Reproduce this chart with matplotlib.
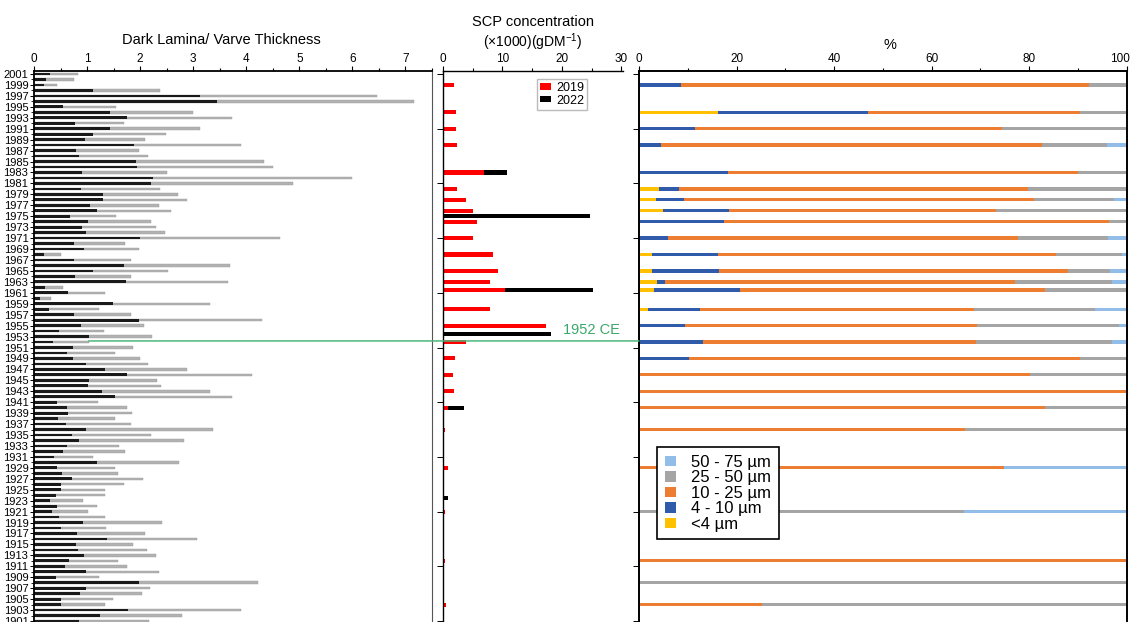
import matplotlib.pyplot as plt
import numpy as np
from matplotlib.patches import ConnectionPatch
from matplotlib.ticker import MultipleLocator, FixedLocator
from matplotlib.transforms import ScaledTranslation

plt.rcParams["font.family"] = ["Liberation Sans", "DejaVu Sans"]
plt.rcParams["mathtext.fontset"] = "custom"
plt.rcParams["mathtext.rm"] = "Liberation Sans"

# --- left panel: annual dark lamina / varve thickness (2001 -> 1901)
years = np.arange(2001, 1900, -1)
dark_lamina = [
    0.30, 0.22, 0.18, 1.11, 3.13, 3.44, 0.55, 1.43, 1.75, 0.78,
    1.43, 1.11, 0.96, 1.88, 0.80, 0.85, 1.93, 1.95, 0.90, 2.24,
    2.21, 0.88, 1.30, 1.30, 1.05, 1.19, 0.67, 1.01, 0.91, 0.98,
    1.99, 0.75, 0.94, 0.19, 0.76, 1.70, 1.11, 0.77, 1.73, 0.21,
    0.65, 0.11, 1.48, 0.28, 0.75, 1.97, 0.88, 0.48, 1.04, 0.36,
    0.73, 0.63, 0.73, 0.98, 1.33, 1.76, 1.03, 1.01, 1.28, 1.52,
    0.44, 0.63, 0.64, 0.45, 0.61, 0.98, 0.71, 0.85, 0.63, 0.55,
    0.38, 1.18, 0.44, 0.53, 0.71, 0.51, 0.50, 0.41, 0.31, 0.44,
    0.34, 0.48, 0.92, 0.50, 0.81, 1.38, 0.79, 0.83, 0.94, 0.66,
    0.59, 0.98, 0.41, 1.98, 0.98, 0.86, 0.50, 0.50, 1.78, 1.25,
    0.85,
]
varve_thickness = [
    0.83, 0.75, 0.43, 2.38, 6.46, 7.16, 1.55, 2.99, 3.74, 1.69,
    3.13, 2.49, 2.09, 3.91, 1.98, 2.14, 4.33, 4.51, 2.50, 6.00,
    4.88, 2.38, 2.72, 2.89, 2.35, 2.59, 1.55, 2.21, 2.29, 2.47,
    4.63, 1.72, 1.97, 0.51, 1.83, 3.69, 2.53, 1.82, 3.66, 0.54,
    1.33, 0.32, 3.32, 1.23, 1.83, 4.30, 2.07, 1.31, 2.22, 1.03,
    1.86, 1.53, 2.00, 2.15, 2.88, 4.10, 2.32, 2.39, 3.31, 3.74,
    1.21, 1.76, 1.85, 1.52, 1.83, 3.38, 2.21, 2.82, 1.60, 1.72,
    1.11, 2.74, 1.52, 1.58, 2.05, 1.69, 1.33, 1.33, 0.93, 1.19,
    1.02, 1.33, 2.42, 1.35, 2.10, 3.07, 1.86, 2.13, 2.29, 1.58,
    1.76, 2.35, 1.23, 4.23, 2.18, 2.04, 1.48, 1.33, 3.91, 2.79,
    2.17,
]

# --- middle panel: SCP concentration
scp_years_2019 = [1999, 1994, 1991, 1988, 1983, 1980, 1978, 1976, 1974, 1971,
                  1968, 1965, 1963, 1961.5, 1958, 1955, 1952, 1949, 1946, 1943,
                  1940, 1936, 1929, 1921, 1912, 1908, 1904]
scp_2019 = [1.9, 2.2, 2.2, 2.4, 6.9, 2.4, 3.8, 5.1, 5.8, 5.1,
            8.4, 9.3, 7.9, 10.5, 7.9, 17.3, 3.9, 2.1, 1.6, 1.9,
            0.9, 0.4, 0.9, 0.4, 0.3, 0.1, 0.5]
scp_years_2022 = [1983, 1975, 1961.5, 1953.5, 1940, 1923.5, 1904]
scp_2022 = [10.8, 24.7, 25.2, 18.2, 3.6, 0.9, 0.4]

# --- right panel: particle size classes (%), same samples as SCP 2019
size_classes = ["<4 µm", "4 - 10 µm", "10 - 25 µm", "25 - 50 µm", "50 - 75 µm"]
size_colors = ["#FFC000", "#2F5BAA", "#ED7D31", "#A5A5A5", "#92BDE8"]
pct_lt4 = [0, 16.1, 0, 0, 0, 4.1, 3.4, 5.0, 0, 0,
           2.7, 2.7, 3.6, 3.1, 1.8, 0, 0, 0, 0, 0,
           0, 0, 0, 0, 0, 0, 0]
pct_4_10 = [8.7, 30.9, 11.5, 4.6, 18.3, 4.0, 5.9, 13.5, 17.5, 6.0,
            13.4, 13.7, 1.7, 17.7, 10.8, 9.4, 13.1, 10.3, 0, 0,
            0, 0, 0, 0, 0, 0, 0]
pct_10_25 = [83.6, 43.4, 62.9, 78.1, 71.7, 71.6, 71.7, 54.6, 78.9, 71.8,
             69.5, 71.6, 71.7, 62.5, 56.1, 60.0, 55.9, 80.1, 80.2, 100,
             83.3, 66.8, 74.9, 0, 100, 0, 25.2]
pct_25_50 = [7.7, 9.6, 25.6, 13.3, 10.0, 20.3, 16.3, 26.9, 3.6, 18.4,
             13.5, 8.6, 19.9, 16.7, 24.7, 29.1, 27.9, 9.6, 19.8, 0,
             16.7, 33.2, 0, 66.7, 0, 100, 74.8]
pct_50_75 = [0, 0, 0, 4.0, 0, 0, 2.7, 0, 0, 3.8,
             0.9, 3.4, 3.1, 0, 6.6, 1.5, 3.1, 0, 0, 0,
             0, 0, 25.1, 33.3, 0, 0, 0]

W, H = 1131, 622
fig = plt.figure(figsize=(W / 100, H / 100), dpi=100)
top = 1 - 70.5 / H
ax1 = fig.add_axes([34 / W, 0, 398 / W, top])
ax2 = fig.add_axes([443 / W, 0, 180 / W, top])
ax3 = fig.add_axes([639 / W, 0, 487.7 / W, top])

ylims = (1900.82, 2001.64)
for ax in (ax1, ax2, ax3):
    ax.set_ylim(*ylims)
    ax.xaxis.tick_top()
    ax.spines["bottom"].set_visible(False)
    ax.tick_params(axis="x", which="major", direction="out", length=3.5, width=0.8,
                   labelsize=8.5, pad=0.8)
    ax.tick_params(axis="x", which="minor", direction="out", length=2.5, width=0.8)

# left panel
ax1.barh(years, varve_thickness, height=0.45, color="#b2b2b2", edgecolor="#9a9a9a",
         linewidth=0.3)
ax1.barh(years, dark_lamina, height=0.5, color="#1a1a1a")
ax1.set_xlim(0, 7.5)
ax1.xaxis.set_major_locator(FixedLocator(range(8)))
ax1.xaxis.set_minor_locator(MultipleLocator(0.5))
ax1.set_yticks(np.arange(1901, 2002, 2))
ax1.yaxis.set_minor_locator(MultipleLocator(1))
ax1.tick_params(axis="y", which="major", length=3, width=0.7, labelsize=8, pad=1)
ax1.tick_params(axis="y", which="minor", length=2, width=0.6)
for s in ("top", "left"):
    ax1.spines[s].set_linewidth(1.3)
ax1.spines["right"].set_color("#555555")

# middle panel
ax2.barh(scp_years_2022, scp_2022, height=0.75, color="black", label="2022")
ax2.barh(scp_years_2019, scp_2019, height=0.75, color="#FF0000", label="2019")
ax2.set_xlim(0, 30.3)
ax2.set_xticks([0, 10, 20, 30])
ax2.xaxis.set_minor_locator(FixedLocator([5, 15, 25]))
ax2.set_yticks(np.arange(1901, 2002, 10))
ax2.tick_params(axis="y", length=4, width=0.7, labelleft=False)
ax2.spines["right"].set_visible(False)
ax2.spines["top"].set_linewidth(1.0)
ax2.spines["left"].set_linewidth(1.0)
h, l = ax2.get_legend_handles_labels()
ax2.legend(h[::-1], l[::-1], loc="upper left", bbox_to_anchor=(0.52, 0.985),
           fontsize=9, frameon=True, fancybox=False, edgecolor="#aaaaaa",
           handlelength=0.9, handleheight=0.45, handletextpad=0.4,
           borderpad=0.25, labelspacing=0.05, borderaxespad=0)
ax2.text(29.8, 1952.9, "1952 CE", color="#3aa86a", fontsize=10.5, ha="right",
         va="bottom")

# right panel
cols = [pct_lt4, pct_4_10, pct_10_25, pct_25_50, pct_50_75]
left = np.zeros(len(scp_years_2019))
for vals, name, c in zip(cols, size_classes, size_colors):
    ax3.barh(scp_years_2019, vals, left=left, height=0.6, color=c, label=name)
    left += np.array(vals)
ax3.set_xlim(0, 100)
ax3.set_xticks(range(0, 101, 20))
ax3.xaxis.set_minor_locator(MultipleLocator(10))
ax3.set_yticks(np.arange(1901, 2002, 10))
ax3.tick_params(axis="y", length=4, width=0.7, labelleft=False)
for s in ("top", "left", "right"):
    ax3.spines[s].set_linewidth(1.4)
# keep the "100" label inside the figure
fig.canvas.draw()
last = ax3.get_xticklabels()[-1]
last.set_transform(last.get_transform() + ScaledTranslation(-7 / 100, 0, fig.dpi_scale_trans))

h, l = ax3.get_legend_handles_labels()
leg = ax3.legend(h[::-1], l[::-1], loc="upper left", bbox_to_anchor=(0.037, 0.317),
                 fontsize=12, frameon=True, fancybox=False, edgecolor="black",
                 framealpha=1, handlelength=0.7, handleheight=0.6,
                 handletextpad=0.9, labelspacing=0.03, borderpad=0.45,
                 borderaxespad=0)
leg.get_frame().set_linewidth(1.2)

# 1952 CE marker line across the panels
con = ConnectionPatch(xyA=(1.03, 1952.2), coordsA=ax1.transData,
                      xyB=(0, 1952.2), coordsB=ax3.transData,
                      color="#4cb77a", linewidth=1.1)
fig.add_artist(con)

# titles
fig.text(221 / W, 1 - 40 / H, "Dark Lamina/ Varve Thickness", ha="center",
         va="center", fontsize=10.5)
fig.text(533 / W, 1 - 22 / H, "SCP concentration", ha="center", va="center",
         fontsize=10.5)
fig.text(533 / W, 1 - 42 / H, r"(×1000)(gDM$^{-1}$)", ha="center", va="center",
         fontsize=10)
fig.text(890 / W, 1 - 45 / H, "%", ha="center", va="center", fontsize=10.5)

fig.savefig("out.png", dpi=100)
